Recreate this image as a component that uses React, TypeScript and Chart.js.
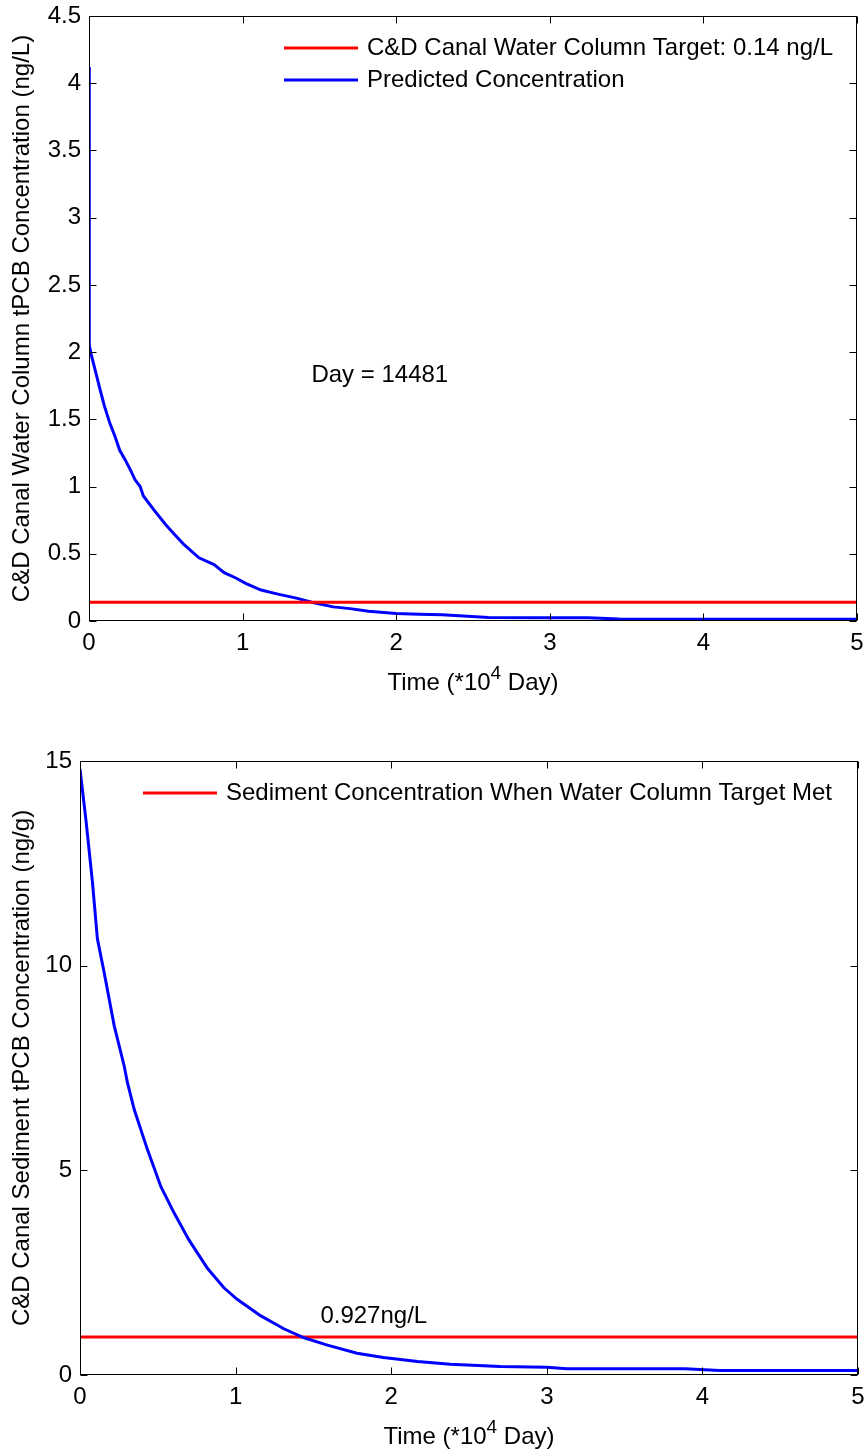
import React, { useEffect, useRef } from "react";
import { Chart, registerables } from "chart.js";

Chart.register(...registerables);

// ---------- data (time in units of 10^4 days) ----------
const waterTime = [0, 0.002, 0.015, 0.048, 0.07, 0.1, 0.136, 0.17, 0.2, 0.235, 0.267, 0.3, 0.333, 0.354, 0.42, 0.497, 0.56, 0.617, 0.716, 0.814, 0.88, 0.956, 1.02, 1.12, 1.23, 1.35, 1.45, 1.59, 1.7, 1.82, 2.0, 2.15, 2.3, 2.6, 3.0, 3.25, 3.45, 4.0, 5.0];
const waterConc = [4.12, 2.05, 1.98, 1.83, 1.73, 1.6, 1.47, 1.37, 1.27, 1.2, 1.13, 1.05, 1.0, 0.93, 0.83, 0.72, 0.64, 0.57, 0.47, 0.42, 0.36, 0.32, 0.28, 0.23, 0.2, 0.17, 0.14, 0.105, 0.092, 0.072, 0.056, 0.05, 0.046, 0.026, 0.025, 0.025, 0.014, 0.013, 0.013];
const waterTarget = 0.14;

const sedTime = [0, 0.037, 0.08, 0.112, 0.155, 0.22, 0.284, 0.305, 0.348, 0.434, 0.52, 0.606, 0.7, 0.82, 0.925, 1.01, 1.16, 1.31, 1.44, 1.59, 1.78, 1.95, 2.17, 2.38, 2.7, 3.0, 3.13, 3.89, 4.11, 5.0];
const sedConc = [14.8, 13.6, 12.04, 10.65, 9.84, 8.53, 7.55, 7.14, 6.49, 5.5, 4.6, 3.95, 3.3, 2.6, 2.13, 1.85, 1.45, 1.13, 0.91, 0.73, 0.53, 0.43, 0.33, 0.26, 0.21, 0.19, 0.15, 0.15, 0.11, 0.11];
const sedAtTarget = 0.927;

const xTicks = [0, 1, 2, 3, 4, 5];
const yTicksWater = [0, 0.5, 1, 1.5, 2, 2.5, 3, 3.5, 4, 4.5];
const yTicksSed = [0, 5, 10, 15];

const waterTargetLabel = "C&D Canal Water Column Target: 0.14 ng/L";
const waterPredLabel = "Predicted Concentration";
const sedTargetLabel = "Sediment Concentration When Water Column Target Met";
const waterYTitle = "C&D Canal Water Column tPCB Concentration (ng/L)";
const sedYTitle = "C&D Canal Sediment tPCB Concentration (ng/g)";
const dayNote = "Day = 14481";
const dayNoteAt = { x: 1.4481, y: 1.83 };
const sedNote = "0.927ng/L";
const sedNoteAt = { x: 1.545, y: 1.42 };

const FONT = "'Liberation Sans', Arial, Helvetica, sans-serif";
const FS = 24;
const RED = "#ff0000";
const BLUE = "#0000ff";

function pts(xs: number[], ys: number[]) {
  return xs.map((x, i) => ({ x, y: ys[i] }));
}

type Note = { text: string; x: number; y: number };

function makePlugin(note: Note, legendRightGap: number) {
  return {
    id: "matlabDecor",
    afterDraw(chart: any) {
      const ctx = chart.ctx as CanvasRenderingContext2D;
      const a = chart.chartArea;
      const xs = chart.scales.x;
      const ys = chart.scales.y;
      ctx.save();
      // frame
      ctx.strokeStyle = "#000";
      ctx.lineWidth = 1;
      const L = Math.round(a.left) + 0.5;
      const R = Math.round(a.right) - 0.5;
      const T = Math.round(a.top) + 0.5;
      const B = Math.round(a.bottom) - 0.5;
      ctx.strokeRect(L, T, R - L, B - T);
      // inward ticks on all four sides
      const tl = 7;
      ctx.beginPath();
      xs.ticks.forEach((t: any) => {
        const px = Math.round(xs.getPixelForValue(t.value)) + 0.5;
        ctx.moveTo(px, B);
        ctx.lineTo(px, B - tl);
        ctx.moveTo(px, T);
        ctx.lineTo(px, T + tl);
      });
      ys.ticks.forEach((t: any) => {
        const py = Math.round(ys.getPixelForValue(t.value)) + 0.5;
        ctx.moveTo(L, py);
        ctx.lineTo(L + tl, py);
        ctx.moveTo(R, py);
        ctx.lineTo(R - tl, py);
      });
      ctx.stroke();

      // legend (top right, no box)
      ctx.font = `${FS}px ${FONT}`;
      ctx.textBaseline = "middle";
      ctx.textAlign = "left";
      const items = chart.data.datasets.filter((d: any) => d.label);
      const maxW = Math.max(...items.map((d: any) => ctx.measureText(d.label).width));
      const textX = a.right - legendRightGap - maxW;
      const lineEnd = textX - 9;
      const lineStart = lineEnd - 74;
      items.forEach((d: any, i: number) => {
        const y = a.top + 32 + i * 32;
        ctx.strokeStyle = d.borderColor;
        ctx.lineWidth = 3;
        ctx.beginPath();
        ctx.moveTo(lineStart, y);
        ctx.lineTo(lineEnd, y);
        ctx.stroke();
        ctx.fillStyle = "#000";
        ctx.fillText(d.label, textX, y);
      });

      // annotation
      ctx.fillStyle = "#000";
      ctx.fillText(note.text, xs.getPixelForValue(note.x), ys.getPixelForValue(note.y));

      // x-axis title with superscript
      const p1 = "Time (*10";
      const p2 = "4";
      const p3 = " Day)";
      const supFS = Math.round(FS * 0.8);
      ctx.font = `${FS}px ${FONT}`;
      const w1 = ctx.measureText(p1).width;
      const w3 = ctx.measureText(p3).width;
      ctx.font = `${supFS}px ${FONT}`;
      const w2 = ctx.measureText(p2).width;
      const total = w1 + w2 + w3;
      let sx = (a.left + a.right) / 2 - total / 2;
      const ty = a.bottom + 62;
      ctx.font = `${FS}px ${FONT}`;
      ctx.fillText(p1, sx, ty);
      sx += w1;
      ctx.font = `${supFS}px ${FONT}`;
      ctx.fillText(p2, sx, ty - 9);
      sx += w2;
      ctx.font = `${FS}px ${FONT}`;
      ctx.fillText(p3, sx, ty);
      ctx.restore();
    },
  };
}

type Cfg = {
  datasets: any[];
  yMax: number;
  yTicks: number[];
  yTitle: string;
  padTop: number;
  padRight: number;
  yWidth: number;
  xHeight: number;
  labelPadY: number;
  legendRightGap: number;
  note: Note;
};

function PlotCanvas({ cfg, width, height }: { cfg: Cfg; width: number; height: number }) {
  const ref = useRef<HTMLCanvasElement | null>(null);
  useEffect(() => {
    if (!ref.current) return;
    const chart = new Chart(ref.current, {
      type: "line",
      data: { datasets: cfg.datasets },
      options: {
        animation: false,
        responsive: false,
        devicePixelRatio: 1,
        parsing: false as any,
        normalized: true,
        layout: { padding: { top: cfg.padTop, right: cfg.padRight, left: 0, bottom: 0 } },
        plugins: { legend: { display: false }, tooltip: { enabled: false } },
        elements: { point: { radius: 0 }, line: { tension: 0, borderWidth: 3 } },
        scales: {
          x: {
            type: "linear",
            min: 0,
            max: 5,
            border: { display: false },
            grid: { display: false, drawTicks: false },
            afterBuildTicks: (s: any) => {
              s.ticks = xTicks.map((v) => ({ value: v }));
            },
            afterFit: (s: any) => {
              s.height = cfg.xHeight;
              s.paddingLeft = 0;
              s.paddingRight = 0;
              s.paddingTop = 0;
              s.paddingBottom = 0;
            },
            ticks: {
              color: "#000",
              font: { family: FONT, size: FS },
              padding: 8,
              maxRotation: 0,
              autoSkip: false,
              callback: (v: any) => String(v),
            },
          },
          y: {
            type: "linear",
            min: 0,
            max: cfg.yMax,
            border: { display: false },
            grid: { display: false, drawTicks: false },
            afterBuildTicks: (s: any) => {
              s.ticks = cfg.yTicks.map((v) => ({ value: v }));
            },
            afterFit: (s: any) => {
              s.width = cfg.yWidth;
              s.paddingLeft = 0;
              s.paddingRight = 0;
              s.paddingTop = 0;
              s.paddingBottom = 0;
            },
            ticks: {
              color: "#000",
              font: { family: FONT, size: FS },
              padding: cfg.labelPadY,
              autoSkip: false,
              callback: (v: any) => String(v),
            },
            title: {
              display: true,
              text: cfg.yTitle,
              color: "#000",
              font: { family: FONT, size: FS },
              padding: { top: 8, bottom: 0 },
            },
          },
        },
      },
      plugins: [makePlugin(cfg.note, cfg.legendRightGap)],
    } as any);
    return () => chart.destroy();
  }, [cfg]);
  return <canvas ref={ref} width={width} height={height} style={{ display: "block", width, height }} />;
}

const cfgWater: Cfg = {
  datasets: [
    {
      label: waterTargetLabel,
      data: [
        { x: 0, y: waterTarget },
        { x: 5, y: waterTarget },
      ],
      borderColor: RED,
      backgroundColor: RED,
      borderWidth: 3,
    },
    {
      label: waterPredLabel,
      data: pts(waterTime, waterConc),
      borderColor: BLUE,
      backgroundColor: BLUE,
      borderWidth: 3,
    },
  ],
  yMax: 4.5,
  yTicks: yTicksWater,
  yTitle: waterYTitle,
  padTop: 16,
  padRight: 11,
  yWidth: 89,
  xHeight: 104,
  labelPadY: 8,
  legendRightGap: 24,
  note: { text: dayNote, x: dayNoteAt.x, y: dayNoteAt.y },
};

const cfgSed: Cfg = {
  datasets: [
    {
      label: "",
      data: pts(sedTime, sedConc),
      borderColor: BLUE,
      backgroundColor: BLUE,
      borderWidth: 3,
    },
    {
      label: sedTargetLabel,
      data: [
        { x: 0, y: sedAtTarget },
        { x: 5, y: sedAtTarget },
      ],
      borderColor: RED,
      backgroundColor: RED,
      borderWidth: 3,
    },
  ],
  yMax: 15,
  yTicks: yTicksSed,
  yTitle: sedYTitle,
  padTop: 36,
  padRight: 10,
  yWidth: 80,
  xHeight: 76,
  labelPadY: 8,
  legendRightGap: 26,
  note: { text: sedNote, x: sedNoteAt.x, y: sedNoteAt.y },
};

export default function App() {
  return (
    <div style={{ position: "absolute", left: 0, top: 0, width: 868, height: 1451, background: "#fff" }}>
      <PlotCanvas cfg={cfgWater} width={868} height={725} />
      <PlotCanvas cfg={cfgSed} width={868} height={726} />
    </div>
  );
}
